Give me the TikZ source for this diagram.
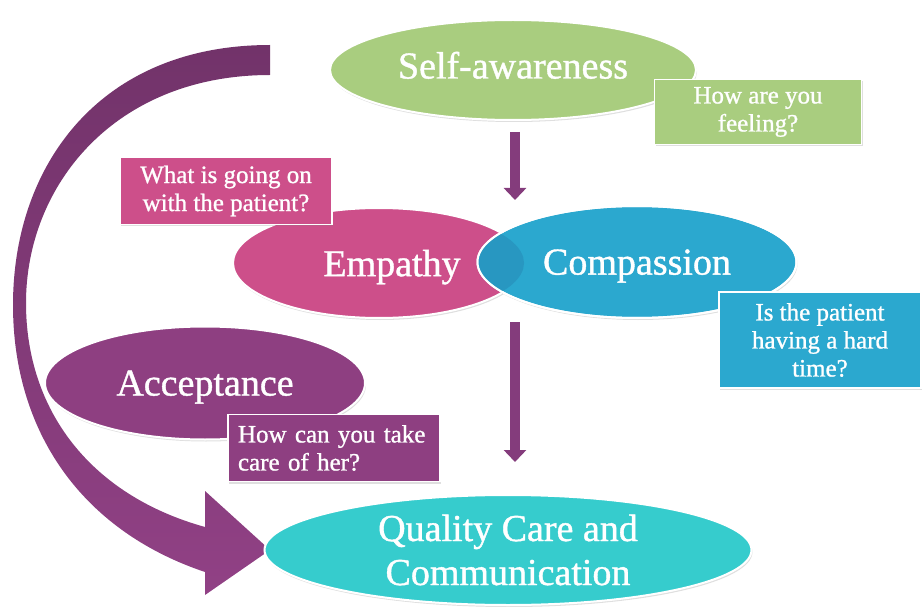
\documentclass[tikz,border=0pt]{standalone}
\usepackage{fontspec}
\setmainfont{Liberation Serif}[UprightFeatures={FakeBold=1}]
\usetikzlibrary{shapes.geometric,arrows.meta,shadows}
\definecolor{selfgreen}{HTML}{A9CD7F}
\definecolor{emppink}{HTML}{CD4F8A}
\definecolor{compblue}{HTML}{2BA8CF}
\definecolor{overlapblue}{HTML}{2897C1}
\definecolor{accpurple}{HTML}{8E3F81}
\definecolor{qualteal}{HTML}{36CCCD}
\definecolor{flowpurple}{HTML}{843C7C}
\definecolor{curvetop}{HTML}{72336A}
\definecolor{curvebot}{HTML}{914185}

\begin{document}
\begin{tikzpicture}[x=1pt,y=-1pt,
  bubble/.style={ellipse, draw=white, line width=2pt, text=white, inner sep=-8pt,
    font=\fontsize{38}{44}\selectfont, align=center,
    drop shadow={opacity=0.25, shadow xshift=1pt, shadow yshift=-2pt}},
  oneline/.style={text depth=0pt},
  note/.style={rectangle, draw=white, line width=1.5pt, text=white, inner sep=0pt,
    font=\fontsize{25}{28}\selectfont,
    drop shadow={opacity=0.25, shadow xshift=1pt, shadow yshift=-2pt}},
  flow/.style={draw=flowpurple, line width=10pt, -{Triangle[width=22pt,length=12pt]}}]
\useasboundingbox (0,0) rectangle (922,607);

% big curved arrow round the left side
\shade[top color=curvetop, bottom color=curvebot]
  (270,45) .. controls (100,45) and (13,165) .. (13,305)
  .. controls (13,430) and (80,530) .. (205,572)
  -- (205,595) -- (270,550) -- (205,491) -- (205,527)
  .. controls (90,495) and (26,410) .. (26,303)
  .. controls (26,185) and (115,75) .. (270,75) -- cycle;

\node[bubble, oneline, text height=17pt, fill=selfgreen, minimum width=366pt, minimum height=100pt] (self) at (513,70) {Self-awareness};
\node[note, fill=selfgreen, minimum width=207pt, minimum height=65pt, align=center] (feel) at (758,112) {How are you\\feeling?};

\coordinate (meet) at (515,200);
\draw[flow, shorten <=11pt] (self.south -| meet) -- (meet);

\node[bubble, oneline, fill=emppink, minimum width=292pt, minimum height=110pt] (empathy) at (379,263) {\hspace*{26pt}Empathy};
\node[bubble, oneline, fill=compblue, minimum width=319pt, minimum height=112pt] (compassion) at (637,262) {Compassion};
\begin{scope}
  \clip (empathy.center) ellipse (145pt and 54pt);
  \fill[overlapblue] (compassion.center) ellipse (159.5pt and 56pt);
\end{scope}
\draw[white, line width=2pt] (compassion.center) ellipse (159.5pt and 56pt);

\node[note, fill=emppink, minimum width=212pt, minimum height=67pt, align=center] (going) at (226,191) {What is going on\\with the patient?};
\node[note, fill=compblue, minimum width=202pt, minimum height=96pt, align=center] (hard) at (820,340) {Is the patient\\having a hard\\time?};

\node[bubble, oneline, fill=accpurple, minimum width=320pt, minimum height=113pt] (accept) at (205,383) {Acceptance};
\node[note, fill=accpurple, minimum width=212pt, minimum height=67pt, text width=192pt, align=left] (care) at (334,448) {How can you take\\care of her?};

\node[bubble, fill=qualteal, minimum width=487pt, minimum height=110pt] (quality) at (508,550) {Quality Care and\\Communication};

\coordinate (split) at (515,322);
\draw[flow, shorten >=32pt] (split) -- (split |- quality.north);
\end{tikzpicture}
\end{document}
